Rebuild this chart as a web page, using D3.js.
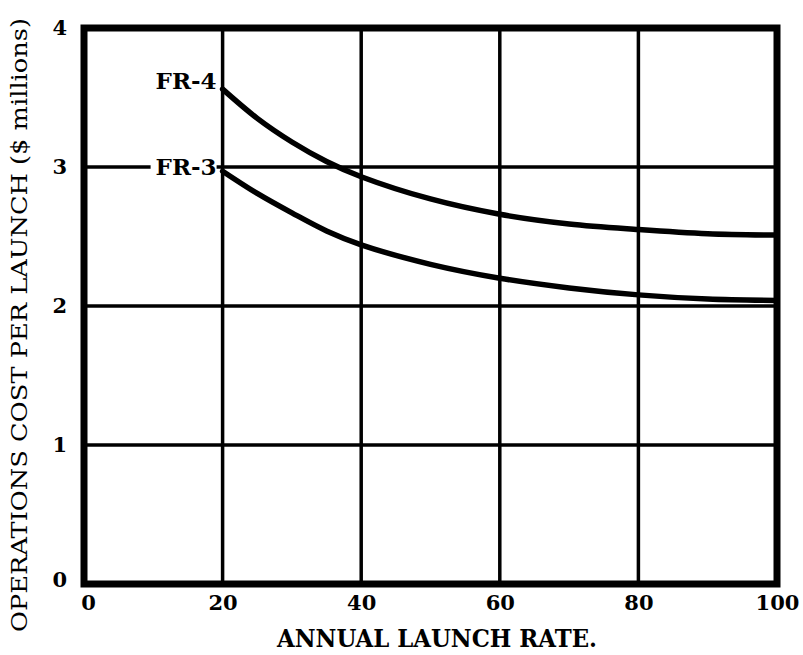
<!DOCTYPE html>
<html>
<head>
<meta charset="utf-8">
<script src="https://cdn.jsdelivr.net/npm/d3@7"></script>
<style>
  body { margin: 0; background: #fff; }
  text { font-family: "DejaVu Serif", "Liberation Serif", serif; font-weight: bold; fill: #000; }
</style>
</head>
<body>
<script>
'use strict';

// values
const launchRate = [20, 25, 30, 35, 40, 50, 60, 70, 80, 90, 100];
const fr4Cost = [3.56, 3.35, 3.18, 3.04, 2.93, 2.77, 2.66, 2.59, 2.55, 2.52, 2.51];
const fr3Cost = [2.97, 2.81, 2.67, 2.54, 2.44, 2.30, 2.20, 2.13, 2.08, 2.05, 2.04];
const xTicks = [0, 20, 40, 60, 80, 100];
const yTicks = [0, 1, 2, 3, 4];
const seriesNames = ['FR-4', 'FR-3'];

const msm = { width: 803, height: 655, left: 84, right: 777, top: 28, bottom: 584 };

const svg = d3.select('body').append('svg')
  .attr('width', msm.width)
  .attr('height', msm.height);

const x = d3.scaleLinear().domain([0, 100]).range([msm.left, msm.right]);
const y = d3.scaleLinear().domain([0, 4]).range([msm.bottom, msm.top]);

// grid lines
svg.append('g').selectAll('line.v')
  .data(xTicks.slice(1, -1))
  .enter().append('line')
  .attr('x1', d => x(d)).attr('x2', d => x(d))
  .attr('y1', msm.top).attr('y2', msm.bottom)
  .attr('stroke', '#000').attr('stroke-width', 3.5);

svg.append('g').selectAll('line.h')
  .data(yTicks.slice(1, -1))
  .enter().append('line')
  .attr('x1', msm.left).attr('x2', msm.right)
  .attr('y1', d => y(d)).attr('y2', d => y(d))
  .attr('stroke', '#000').attr('stroke-width', 3.5);

// curves
const line = d3.line()
  .x((d, i) => x(launchRate[i]))
  .y(d => y(d))
  .curve(d3.curveCatmullRom);

[fr4Cost, fr3Cost].forEach(s => {
  svg.append('path')
    .datum(s)
    .attr('fill', 'none')
    .attr('stroke', '#000')
    .attr('stroke-width', 5.5)
    .attr('stroke-linecap', 'round')
    .attr('d', line);
});

// frame
svg.append('rect')
  .attr('x', msm.left).attr('y', msm.top)
  .attr('width', msm.right - msm.left)
  .attr('height', msm.bottom - msm.top)
  .attr('fill', 'none')
  .attr('stroke', '#000')
  .attr('stroke-width', 7);

// series labels (white box breaks the grid line behind FR-3)
const labelData = [
  { name: seriesNames[0], v: fr4Cost[0] + 0.06 },
  { name: seriesNames[1], v: fr3Cost[0] + 0.03 }
];
labelData.forEach(l => {
  const t = svg.append('text')
    .attr('x', x(launchRate[0]) - 6)
    .attr('y', y(l.v))
    .attr('dy', '0.36em')
    .attr('text-anchor', 'end')
    .style('font-size', '23px')
    .text(l.name);
  const b = t.node().getBBox();
  svg.insert('rect', 'text')
    .attr('x', b.x - 5).attr('y', b.y + 4)
    .attr('width', b.width + 5).attr('height', b.height - 8)
    .attr('fill', '#fff');
});

// tick labels
const tickFont = g => g.selectAll('text')
  .style('font-size', '21px')
  .style('font-family', '"DejaVu Serif", serif')
  .style('font-weight', 'bold');

const xAxis = svg.append('g')
  .attr('transform', 'translate(0,' + (msm.bottom + 9) + ')')
  .call(d3.axisBottom(x).tickValues(xTicks).tickFormat(d3.format('d')).tickSize(0).tickPadding(2));
xAxis.select('.domain').remove();
xAxis.call(tickFont);
xAxis.selectAll('text').attr('dx', (d, i) => i === 0 ? 4 : 0);

const yAxis = svg.append('g')
  .attr('transform', 'translate(' + (msm.left - 15) + ',0)')
  .call(d3.axisLeft(y).tickValues(yTicks).tickFormat(d3.format('d')).tickSize(0).tickPadding(2));
yAxis.select('.domain').remove();
yAxis.call(tickFont);
yAxis.selectAll('text').attr('dy', d => d === 0 ? '0.1em' : '0.32em');

// axis titles
svg.append('text')
  .attr('x', 277).attr('y', 647)
  .attr('textLength', 320).attr('lengthAdjust', 'spacingAndGlyphs')
  .style('font-size', '24px')
  .text('ANNUAL LAUNCH RATE.');

svg.append('text')
  .attr('transform', 'translate(27,632) rotate(-90)')
  .attr('textLength', 614).attr('lengthAdjust', 'spacingAndGlyphs')
  .style('font-size', '22px')
  .style('font-weight', 'normal')
  .text('OPERATIONS COST PER LAUNCH ($ millions)');
</script>
</body>
</html>
